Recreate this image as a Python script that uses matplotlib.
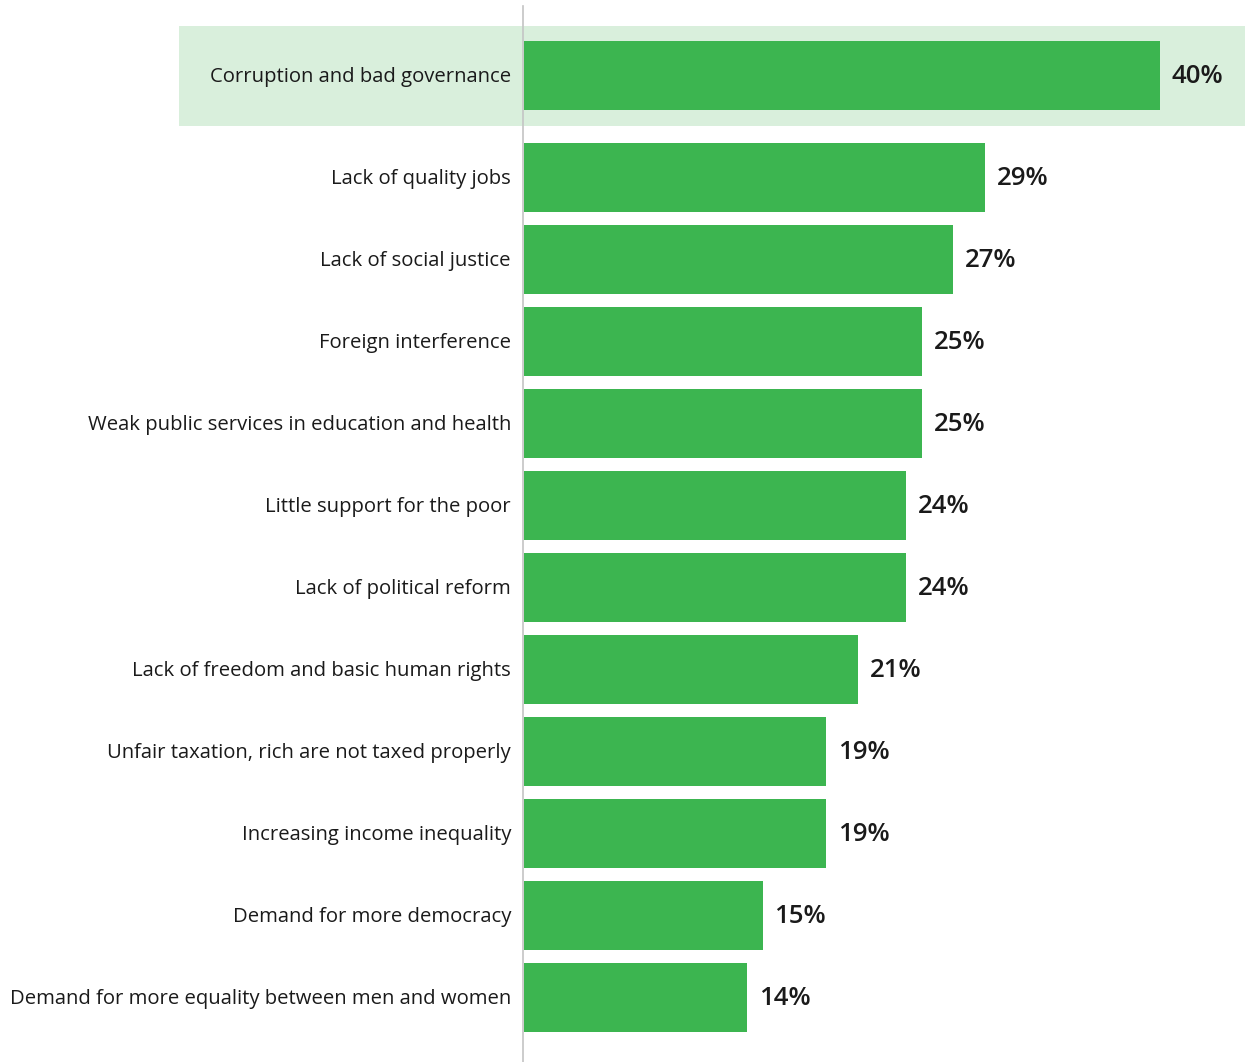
import matplotlib.pyplot as plt
from matplotlib.patches import Rectangle
import matplotlib.transforms as mtransforms
import numpy as np

plt.rcParams['font.family'] = ['Open Sans', 'DejaVu Sans']

# Data
CATEGORIES = [
    "Corruption and bad governance",
    "Lack of quality jobs",
    "Lack of social justice",
    "Foreign interference",
    "Weak public services in education and health",
    "Little support for the poor",
    "Lack of political reform",
    "Lack of freedom and basic human rights",
    "Unfair taxation, rich are not taxed properly",
    "Increasing income inequality",
    "Demand for more democracy",
    "Demand for more equality between men and women",
]
VALUES = [40, 29, 27, 25, 25, 24, 24, 21, 19, 19, 15, 14]

BAR_COLOR = '#3cb550'
HIGHLIGHT = '#d9efdc'
TEXT_COLOR = '#1a1a1a'

W, H = 1248, 1062
DPI = 100
fig = plt.figure(figsize=(W / DPI, H / DPI), dpi=DPI)

# axes start at the vertical divider, run to right edge
ax_left = 524
ax = fig.add_axes([ax_left / W, 0, 1 - ax_left / W, 1])

px_per_unit_x = 15.9
ax.set_xlim(0, (W - ax_left) / px_per_unit_x)

step = 82.0
first_center = 75.5
gap = (102 - 82) / step  # extra space under the highlighted row
ax.set_ylim((H - first_center) / step, -first_center / step)

pos = np.array([i + (gap if i > 0 else 0) for i in range(len(CATEGORIES))])
bar_h = 69 / step

# highlight band for the top row
x0 = (179 - ax_left) / px_per_unit_x
x1 = (1245 - ax_left) / px_per_unit_x
y0 = (26 - first_center) / step
y1 = (126 - first_center) / step
ax.add_patch(Rectangle((x0, y0), x1 - x0, y1 - y0, facecolor=HIGHLIGHT,
                       edgecolor='none', clip_on=False, zorder=0))

ax.barh(pos, VALUES, height=bar_h, color=BAR_COLOR, zorder=2)

# category labels left of axis, value labels right of bars
lab_off = mtransforms.offset_copy(ax.transData, fig=fig, x=-13, y=-1.5, units='dots')
val_off = mtransforms.offset_copy(ax.transData, fig=fig, x=12, y=-1.5, units='dots')
for p, cat, v in zip(pos, CATEGORIES, VALUES):
    ax.text(0, p, cat, transform=lab_off, ha='right', va='center',
            fontsize=14.6, color=TEXT_COLOR, clip_on=False)
    ax.text(v, p, f"{v}%", transform=val_off, ha='left', va='center',
            fontsize=18.5, fontweight='semibold', color=TEXT_COLOR)

# thin divider line
ax.plot([-1 / px_per_unit_x, -1 / px_per_unit_x], [(6 - first_center) / step, (H - first_center) / step],
        color='#c4c4c4', linewidth=1.2, clip_on=False, zorder=3)

ax.axis('off')
fig.savefig('out.png', dpi=DPI)
